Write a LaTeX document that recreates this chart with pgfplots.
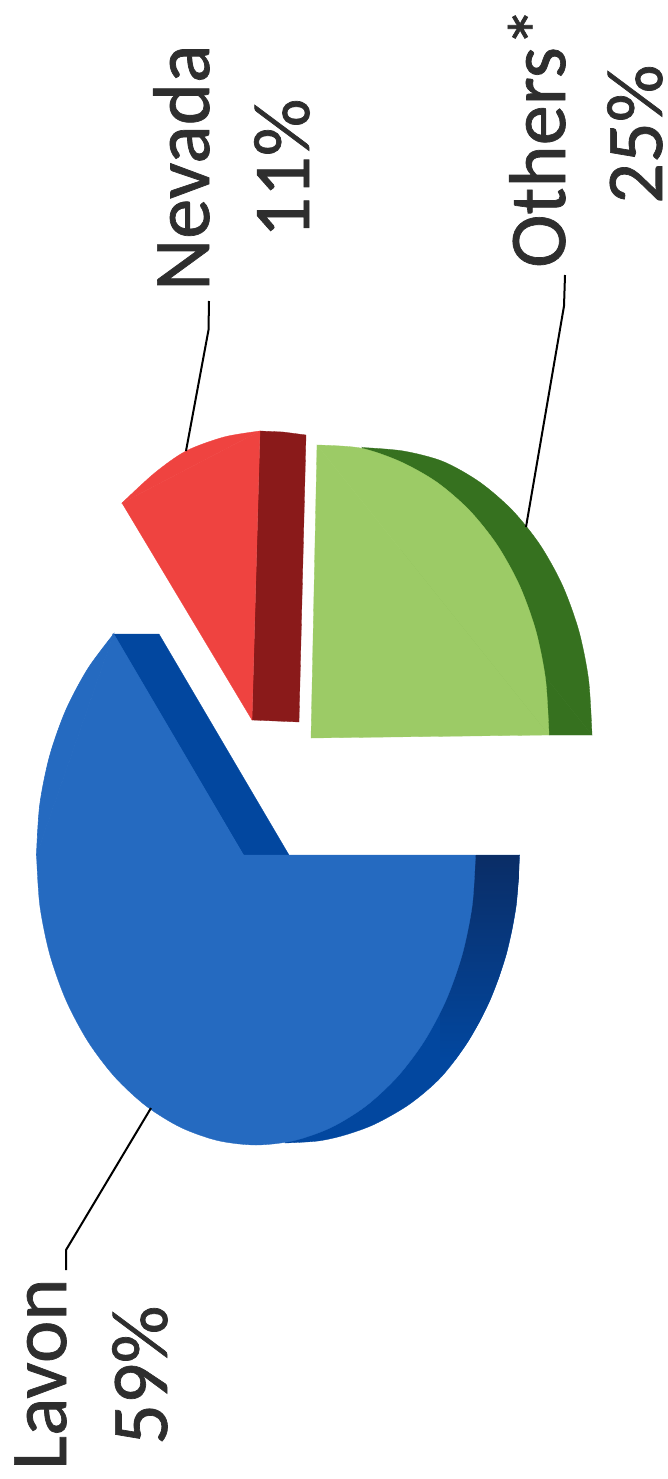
\documentclass[border=0pt]{standalone}
\usepackage{fontspec}
\setmainfont{Carlito}
\usepackage{pgfplots}
\pgfplotsset{compat=1.18}
\definecolor{bluetop}{HTML}{256AC0}
\definecolor{blueside}{HTML}{02479F}
\definecolor{bluenavy}{HTML}{0A2D66}
\definecolor{greentop}{HTML}{9CCB66}
\definecolor{greenside}{HTML}{36711F}
\definecolor{redtop}{HTML}{EF4340}
\definecolor{redside}{HTML}{8A1A1A}
\definecolor{labelc}{HTML}{2E2E2E}
\newcommand{\heavy}[1]{\special{pdf:code 2 Tr 0.7 w}#1\special{pdf:code 0 Tr 0.4 w}}
\tikzset{lab/.style={font=\fontsize{80.5}{80.5}\selectfont, text=labelc, rotate=90, anchor=base west, inner sep=0pt}}
\begin{document}
\begin{tikzpicture}
\useasboundingbox (0,0) rectangle (667pt,1479pt);
\begin{axis}[
  at={(0,0)}, anchor=south west,
  scale only axis, width=667pt, height=1479pt,
  xmin=0, xmax=667, ymin=0, ymax=1479, y dir=reverse,
  hide axis, clip=false,
  every axis plot/.append style={no markers},
]
% Lavon side
\addplot[draw=blueside, line width=0.3pt, fill=blueside] coordinates {(519.5,855)(476,855)(290,1100)(285,1142)} --cycle;
\addplot[smooth, draw=blueside, line width=0.3pt, fill=blueside] coordinates {(519.5,855)(516.2,905.4)(506.3,954.2)(490.1,1000)(468.1,1041.4)(441.1,1077.1)(409.8,1104)(375.1,1124)(345,1135)(318,1141)(285,1143)} --cycle;
\addplot[draw=none, top color=bluenavy, bottom color=blueside] coordinates {(519.5,855)(518.7,880.3)(516.2,905.4)(512,930)(506.3,954.2)(498.9,977.6)(490.1,1000)(479.8,1021.4)(468.1,1041.4)(455.2,1060)(440,1060)(440,855)} --cycle;
\addplot[draw=blueside, line width=0.3pt, fill=blueside] coordinates {(112.5,634)(159,634)(289,855)(244,856)} --cycle;
% Lavon top
\addplot[smooth, draw=bluetop, line width=0.3pt, fill=bluetop] coordinates {(475.5,855)(472.2,905.4)(462.3,954.2)(446.1,1000)(424.1,1041.4)(397.1,1077.1)(365.8,1106.1)(331.1,1127.5)(294.1,1140.6)(256,1145)(217.9,1140.6)(180.9,1127.5)(146.2,1106.1)(114.9,1077.1)(87.9,1041.4)(65.9,1000)(49.7,954.2)(39.8,905.4)(36.5,855)} --cycle;
\addplot[smooth, draw=bluetop, line width=0.6pt, fill=bluetop] coordinates {(36.5,855)(39.8,804.6)(49.7,755.8)(65.9,710)(87.9,668.6)(113.7,634)} --cycle;
\addplot[draw=bluetop, line width=0.6pt, fill=bluetop] coordinates {(36.5,855)(113.7,634)(244,856)} --cycle;
% Nevada
\addplot[draw=redside, line width=0.3pt, fill=redside] coordinates {(260,431)(283,432)(306,435)(299,722)(252,720)} --cycle;
\addplot[draw=redtop, line width=0.3pt, fill=redtop] coordinates {(122,503)(260,431)(252,720)} --cycle;
\addplot[smooth, draw=redtop, line width=0.3pt, fill=redtop] coordinates {(122,503)(154.6,473)(186,451)(224,437)(260,431)} --cycle;
% Others
\addplot[draw=greenside, line width=0.3pt, fill=greenside] coordinates {(592,735)(549,735)(420,600)(362,447.5)} --cycle;
\addplot[smooth, draw=greenside, line width=0.3pt, fill=greenside] coordinates {(592,735)(588.6,679.9)(578.7,630.3)(562.2,584.8)(539.8,544.5)(512.1,510)(479.7,482.1)(443.1,461.5)(403.3,451)(362,447.5)} --cycle;
\addplot[draw=greentop, line width=0.3pt, fill=greentop] coordinates {(317,445)(311,738)(549,735)} --cycle;
\addplot[smooth, draw=greentop, line width=0.3pt, fill=greentop] coordinates {(549,735)(545.6,679.9)(535.7,630.3)(519.2,584.8)(496.8,544.5)(469.1,510)(436.7,482.1)(400.1,461.5)(360.3,448)(317,445)} --cycle;
% Leader lines
\addplot[black, line width=2pt] coordinates {(209,301)(208.5,330)(186,451)};
\addplot[black, line width=2pt] coordinates {(565,275)(564,306)(526,527)};
\addplot[black, line width=2pt] coordinates {(66,1270)(66,1250)(151,1108)};
% Labels
\node[lab] at (axis cs:209,291) {\heavy{Nevada}};
\node[lab] at (axis cs:309,238) {\heavy{11\%}};
\node[lab] at (axis cs:565,268) {\heavy{Others*}};
\node[lab] at (axis cs:662,204) {\heavy{25\%}};
\node[lab] at (axis cs:66,1470) {\heavy{Lavon}};
\node[lab] at (axis cs:167,1445) {\heavy{59\%}};
\end{axis}
\end{tikzpicture}
\end{document}
